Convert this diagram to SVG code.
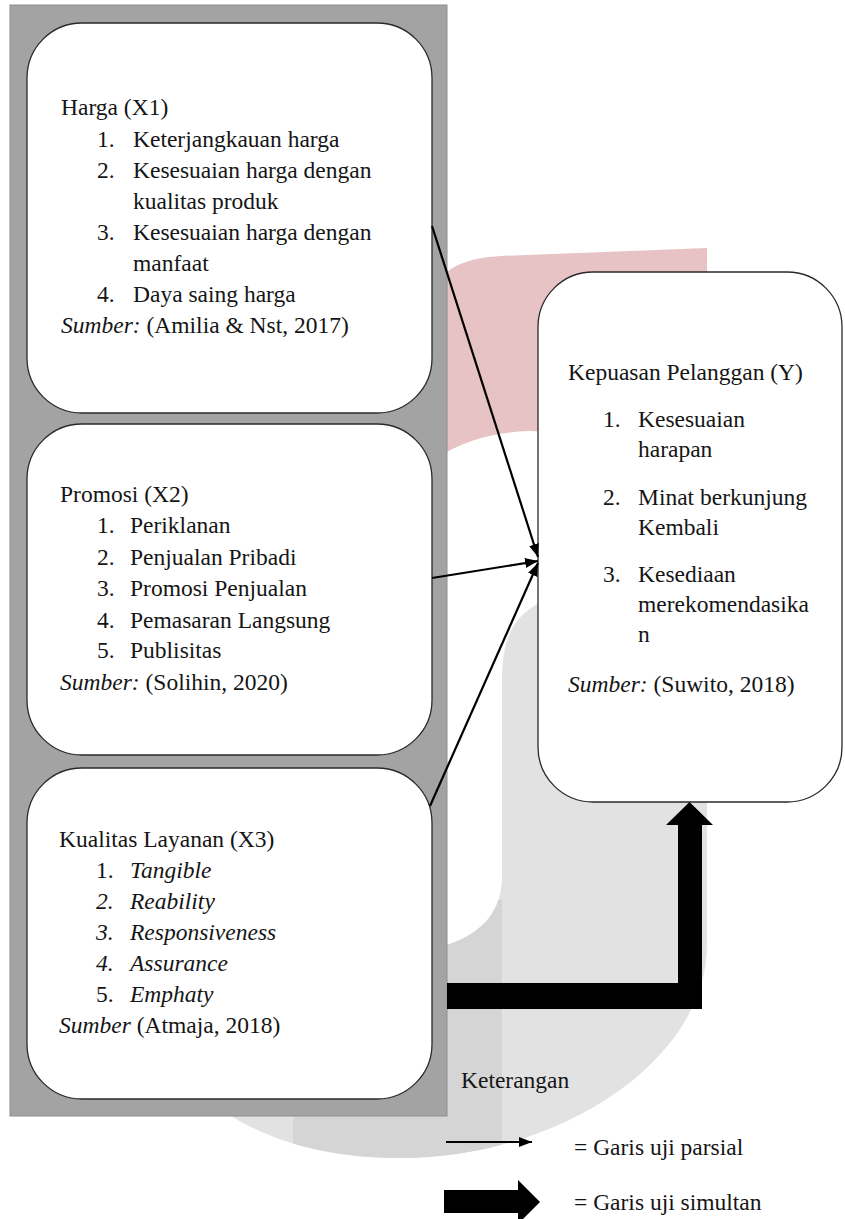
<svg xmlns="http://www.w3.org/2000/svg" width="845" height="1219" viewBox="0 0 845 1219">
<style>
.t{font-family:"Liberation Serif","Times New Roman",serif;font-size:23.5px;fill:#151515}
.i{font-style:italic}
.box{fill:#fff;stroke:#2a2a2a;stroke-width:1.3}
.ln{stroke:#000;stroke-width:2.2;fill:none}
</style>
<defs>
<marker id="ah" markerUnits="userSpaceOnUse" markerWidth="14" markerHeight="12" refX="13" refY="6" orient="auto">
<path d="M0,1 L13,6 L0,11 z" fill="#000"/>
</marker>
<clipPath id="gclip">
<path id="gshape" d="M560 560 L707 560 L707 945 C707 1060 560 1158 400 1158 C330 1158 270 1142 225 1112 L225 1000 L447 945 C485 932 502 910 502 875 L502 680 C502 640 512 615 545 600 Z"/>
</clipPath>
</defs>
<rect width="845" height="1219" fill="#fff"/>
<g id="watermark">
<path d="M447 272 C460 262 475 258 500 256 L707 248 L707 440 L530 431 C495 432 468 440 447 452 Z" fill="#e8c3c5"/>
<path d="M560 560 L707 560 L707 945 C707 1060 560 1158 400 1158 C330 1158 270 1142 225 1112 L225 1000 L447 945 C485 932 502 910 502 875 L502 680 C502 640 512 615 545 600 Z" fill="#e2e2e2"/>
<rect x="293" y="900" width="209" height="280" fill="#d5d5d5" clip-path="url(#gclip)"/>
</g>
<g id="panel">
<rect x="10" y="5" width="437" height="1111" fill="#a3a3a3" stroke="#8e8e8e" stroke-width="1"/>
</g>
<g id="harga">
<rect class="box" x="27" y="23" width="405" height="390" rx="55" ry="55"/>
<text class="t" x="61" y="115">Harga (X1)</text>
<text class="t" x="97" y="147">1.</text><text class="t" x="133" y="147">Keterjangkauan harga</text>
<text class="t" x="97" y="178">2.</text><text class="t" x="133" y="178">Kesesuaian harga dengan</text>
<text class="t" x="133" y="209">kualitas produk</text>
<text class="t" x="97" y="240">3.</text><text class="t" x="133" y="240">Kesesuaian harga dengan</text>
<text class="t" x="133" y="271">manfaat</text>
<text class="t" x="97" y="302">4.</text><text class="t" x="133" y="302">Daya saing harga</text>
<text class="t" x="61" y="333"><tspan class="i">Sumber:</tspan> (Amilia &amp; Nst, 2017)</text>
</g>
<g id="promosi">
<rect class="box" x="27" y="424" width="405" height="331" rx="55" ry="55"/>
<text class="t" x="60" y="502">Promosi (X2)</text>
<text class="t" x="97" y="533">1.</text><text class="t" x="130" y="533">Periklanan</text>
<text class="t" x="97" y="565">2.</text><text class="t" x="130" y="565">Penjualan Pribadi</text>
<text class="t" x="97" y="596">3.</text><text class="t" x="130" y="596">Promosi Penjualan</text>
<text class="t" x="97" y="628">4.</text><text class="t" x="130" y="628">Pemasaran Langsung</text>
<text class="t" x="97" y="658">5.</text><text class="t" x="130" y="658">Publisitas</text>
<text class="t" x="60" y="690"><tspan class="i">Sumber:</tspan> (Solihin, 2020)</text>
</g>
<g id="kualitas">
<rect class="box" x="27" y="768" width="405" height="331" rx="55" ry="55"/>
<text class="t" x="59" y="847">Kualitas Layanan (X3)</text>
<text class="t" x="96" y="878">1.</text><text class="t i" x="130" y="878">Tangible</text>
<text class="t i" x="96" y="909">2.</text><text class="t i" x="130" y="909">Reability</text>
<text class="t i" x="96" y="940">3.</text><text class="t i" x="130" y="940">Responsiveness</text>
<text class="t i" x="96" y="971">4.</text><text class="t i" x="130" y="971">Assurance</text>
<text class="t" x="96" y="1002">5.</text><text class="t i" x="130" y="1002">Emphaty</text>
<text class="t" x="59" y="1033"><tspan class="i">Sumber</tspan> (Atmaja, 2018)</text>
</g>
<g id="kepuasan">
<rect class="box" x="538" y="272" width="304" height="530" rx="55" ry="55"/>
<text class="t" x="568" y="380">Kepuasan Pelanggan (Y)</text>
<text class="t" x="603" y="427">1.</text><text class="t" x="638" y="427">Kesesuaian</text>
<text class="t" x="638" y="457">harapan</text>
<text class="t" x="603" y="505">2.</text><text class="t" x="638" y="505">Minat berkunjung</text>
<text class="t" x="638" y="535">Kembali</text>
<text class="t" x="603" y="582">3.</text><text class="t" x="638" y="582">Kesediaan</text>
<text class="t" x="638" y="612">merekomendasika</text>
<text class="t" x="638" y="642">n</text>
<text class="t" x="568" y="692"><tspan class="i">Sumber:</tspan> (Suwito, 2018)</text>
</g>
<g id="connectors">
<line class="ln" x1="432" y1="226" x2="538" y2="557" marker-end="url(#ah)"/>
<line class="ln" x1="432" y1="578" x2="538" y2="561" marker-end="url(#ah)"/>
<line class="ln" x1="430" y1="806" x2="538" y2="563" marker-end="url(#ah)"/>
<path d="M447 983 L678 983 L678 825 L666 825 L689.5 802 L713 825 L702 825 L702 1009 L447 1009 Z" fill="#000"/>
</g>
<g id="legend">
<text class="t" x="461" y="1088">Keterangan</text>
<line class="ln" x1="446" y1="1142" x2="532" y2="1142" marker-end="url(#ah)"/>
<text class="t" x="574" y="1155">= Garis uji parsial</text>
<path d="M444 1190 L518 1190 L518 1180 L540 1202 L518 1224 L518 1213 L444 1213 Z" fill="#000"/>
<text class="t" x="574" y="1210">= Garis uji simultan</text>
</g>
</svg>
